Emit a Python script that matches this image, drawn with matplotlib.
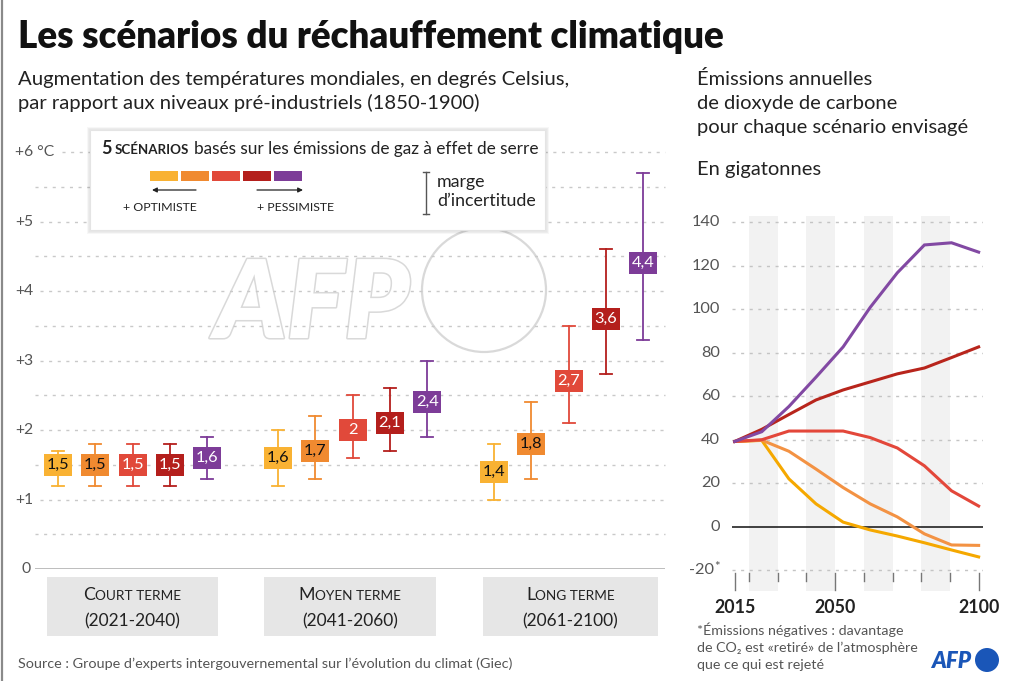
import matplotlib
matplotlib.use('Agg')
import matplotlib.pyplot as plt
from matplotlib.patches import Rectangle, Circle
import matplotlib.patheffects as pe
import numpy as np

plt.rcParams['font.family'] = ['Lato', 'DejaVu Sans']

# ---------------- data ----------------
scenario_colors = ['#f9b233', '#f08a30', '#e1493a', '#b41f1c', '#7d3c98']
line_colors = ['#f5a800', '#f39243', '#e3473a', '#b8251c', '#8249a3']
text_colors = ['#111111', '#111111', 'white', 'white', 'white']

period_names = ['COURT TERME', 'MOYEN TERME', 'LONG TERME']
period_years = ['(2021-2040)', '(2041-2060)', '(2061-2100)']

temp_mid = [[1.5, 1.5, 1.5, 1.5, 1.6],
            [1.6, 1.7, 2.0, 2.1, 2.4],
            [1.4, 1.8, 2.7, 3.6, 4.4]]
temp_low = [[1.2, 1.2, 1.2, 1.2, 1.3],
            [1.2, 1.3, 1.6, 1.7, 1.9],
            [1.0, 1.3, 2.1, 2.8, 3.3]]
temp_high = [[1.7, 1.8, 1.8, 1.8, 1.9],
             [2.0, 2.2, 2.5, 2.6, 3.0],
             [1.8, 2.4, 3.5, 4.6, 5.7]]
temp_ticks = [0, 1, 2, 3, 4, 5, 6]
temp_tick_labels = ['0', '+1', '+2', '+3', '+4', '+5', '+6 °C']

emission_years = [2015, 2020, 2030, 2040, 2050, 2060, 2070, 2080, 2090, 2100]
em_ssp119 = [39.2, 39.7, 22.0, 10.5, 2.1, -1.5, -4.3, -7.4, -10.7, -13.9]
em_ssp126 = [39.2, 39.8, 34.7, 26.5, 18.0, 10.5, 4.5, -3.3, -8.4, -8.6]
em_ssp245 = [39.2, 40.0, 44.0, 44.0, 44.0, 41.0, 36.2, 28.0, 16.5, 9.5]
em_ssp370 = [39.2, 44.8, 51.6, 58.3, 62.9, 66.6, 70.3, 73.0, 77.8, 82.7]
em_ssp585 = [39.2, 43.7, 55.3, 68.8, 82.7, 100.9, 116.8, 129.6, 130.6, 126.3]
emission_series = [em_ssp119, em_ssp126, em_ssp245, em_ssp370, em_ssp585]
em_ticks = [-20, 0, 20, 40, 60, 80, 100, 120, 140]
em_year_labels = [2015, 2050, 2100]
em_minor_years = [2020, 2030, 2040, 2060, 2070, 2080, 2090]
band_years = [(2020, 2030), (2040, 2050), (2060, 2070), (2080, 2090)]

# ---------------- figure ----------------
W, H = 1014, 681
fig = plt.figure(figsize=(W / 100, H / 100), dpi=100)
fig.patch.set_facecolor('white')


def fpos(x0, y0, x1, y1):
    """pixel box (top-left origin) -> figure fraction [l, b, w, h]"""
    return [x0 / W, 1 - y1 / H, (x1 - x0) / W, (y1 - y0) / H]


bg = fig.add_axes([0, 0, 1, 1], zorder=0)
bg.set_xlim(0, W)
bg.set_ylim(H, 0)
bg.axis('off')

GREY = '#555555'
DARK = '#222222'

# left border
bg.plot([1.5, 1.5], [0, H], color='#8a8a8a', lw=1.6)

# title & subtitle
bg.text(18, 48, 'Les scénarios du réchauffement climatique', fontsize=26.5,
        fontweight='heavy', color='#111111', va='baseline')
bg.text(18, 85, 'Augmentation des températures mondiales, en degrés Celsius,',
        fontsize=14.6, color=DARK, va='baseline')
bg.text(18, 109, 'par rapport aux niveaux pré-industriels (1850-1900)',
        fontsize=14.6, color=DARK, va='baseline')

# right titles
for i, s in enumerate(['Émissions annuelles', 'de dioxyde de carbone',
                       'pour chaque scénario envisagé']):
    bg.text(697, 85 + i * 24, s, fontsize=14.5, color=DARK, va='baseline')
bg.text(697, 175, 'En gigatonnes', fontsize=14.5, color=DARK, va='baseline')

# watermark
bg.text(312, 338, 'AFP', fontsize=78, fontweight='heavy', style='italic',
        color='white', ha='center', va='baseline', zorder=1,
        path_effects=[pe.withStroke(linewidth=2.2, foreground='#d9d9d9')])
bg.add_patch(Circle((484, 290), 62, facecolor='white', edgecolor='#d9d9d9',
                    lw=1.6, zorder=1))

# category boxes
box_x = [(47, 218), (264, 436), (483, 658)]
renderer = fig.canvas.get_renderer()


def smallcaps(ax, cx, y, word, big, small, color):
    parts = [(word[0], big), (word[1:], small)]
    objs = []
    for s, fs in parts:
        objs.append(ax.text(0, y, s, fontsize=fs, color=color, va='baseline',
                            ha='left', zorder=5))
    widths = [o.get_window_extent(renderer).width for o in objs]
    total = sum(widths)
    x = cx - total / 2
    for o, w in zip(objs, widths):
        o.set_x(x)
        x += w


for (x0, x1), name, yrs in zip(box_x, period_names, period_years):
    bg.add_patch(Rectangle((x0, 577), x1 - x0, 59, facecolor='#e6e6e6',
                           edgecolor='none', zorder=2))
    cx = (x0 + x1) / 2
    smallcaps(bg, cx, 600, name, 12.8, 9.8, DARK)
    bg.text(cx, 626, yrs, fontsize=12.5, color=DARK, ha='center',
            va='baseline', zorder=5)

bg.text(18, 668, 'Source : Groupe d\u2019experts intergouvernemental sur l\u2019évolution du climat (Giec)',
        fontsize=10.4, color=GREY, va='baseline')

# footnote
foot = ['*Émissions négatives : davantage',
        'de CO\u2082 est «retiré» de l\u2019atmosphère',
        'que ce qui est rejeté']
for i, s in enumerate(foot):
    bg.text(697, 635 + i * 17, s, fontsize=10.3, color=GREY, va='baseline',
            family=['Lato', 'DejaVu Sans'])

# AFP logo
bg.text(951, 668, 'AFP', fontsize=16, fontweight='heavy', style='italic',
        color='#1a56b8', ha='center', va='baseline')
bg.add_patch(Circle((987, 660), 12, facecolor='#1a56b8', edgecolor='none'))

# ---------------- left chart ----------------
axL = fig.add_axes(fpos(35, 152, 665, 569), zorder=1)
axL.set_facecolor('none')
axL.set_xlim(35, 665)
axL.set_ylim(0, 6)
axL.axis('off')

for v in np.arange(0.5, 6.01, 0.5):
    if v == int(v):
        xs = 62 if v == 6 else 40
    else:
        xs = 35
    axL.plot([xs, 665], [v, v], color='#c9c9c9', lw=1.0,
             dashes=(2.2, 4.0), zorder=1, clip_on=False)
axL.plot([35, 665], [0, 0], color='#bdbdbd', lw=1.4, zorder=1)

for t, lab in zip(temp_ticks, temp_tick_labels):
    axL.text(15 if t > 0 else 21, t, lab, fontsize=11.3, color=GREY,
             ha='left', va='center', clip_on=False)

group_start = [58, 278, 494]
step = 37.3
bw, bh = 28, 0.315
for g in range(3):
    for i in range(5):
        x = group_start[g] + i * step
        c = scenario_colors[i]
        axL.plot([x, x], [temp_low[g][i], temp_high[g][i]], color=c,
                 lw=1.3, zorder=3)
        for yy in (temp_low[g][i], temp_high[g][i]):
            axL.plot([x - 6, x + 6], [yy, yy], color=c, lw=1.3, zorder=3)
        axL.add_patch(Rectangle((x - bw / 2, temp_mid[g][i] - bh / 2), bw, bh,
                                facecolor=c, edgecolor='none', zorder=4))
        lab = ('%g' % temp_mid[g][i]).replace('.', ',')
        axL.text(x, temp_mid[g][i], lab, fontsize=11.8, color=text_colors[i],
                 ha='center', va='center', zorder=5)

# ---------------- legend (overlay) ----------------
ov = fig.add_axes([0, 0, 1, 1], zorder=3)
ov.set_facecolor('none')
ov.set_xlim(0, W)
ov.set_ylim(H, 0)
ov.axis('off')

for k, a in enumerate([0.05, 0.04, 0.03]):
    ov.add_patch(Rectangle((90 - k, 130 - k), 455 + 2 * k + 1, 100 + 2 * k + 1,
                           facecolor='none', edgecolor='black', alpha=a, lw=1.5))
ov.add_patch(Rectangle((90, 130), 455, 100, facecolor='white',
                       edgecolor='#e4e4e4', lw=0.8))
t1 = ov.text(101, 154, '5', fontsize=13, fontweight='bold', color=DARK,
             va='baseline')
w1 = t1.get_window_extent(renderer).width
t2 = ov.text(101 + w1 + 3, 154, 'SCÉNARIOS', fontsize=9.6, fontweight='bold',
             color=DARK, va='baseline')
w2 = t2.get_window_extent(renderer).width
ov.text(101 + w1 + 3 + w2 + 5, 154, 'basés sur les émissions de gaz à effet de serre',
        fontsize=12.4, color=DARK, va='baseline')

for i, c in enumerate(scenario_colors):
    ov.add_patch(Rectangle((150 + i * 31, 171), 28, 10, facecolor=c,
                           edgecolor='none'))
ov.annotate('', xy=(152, 190), xytext=(196, 190),
            arrowprops=dict(arrowstyle='-|>', color='#222', lw=0.9,
                            mutation_scale=7, shrinkA=0, shrinkB=0))
ov.annotate('', xy=(303, 190), xytext=(257, 190),
            arrowprops=dict(arrowstyle='-|>', color='#222', lw=0.9,
                            mutation_scale=7, shrinkA=0, shrinkB=0))
ov.text(123, 211, '+ OPTIMISTE', fontsize=8.9, color=DARK, va='baseline')
ov.text(257, 211, '+ PESSIMISTE', fontsize=8.9, color=DARK, va='baseline')

ov.plot([426, 426], [172, 214], color='#555', lw=1.0)
ov.plot([423, 429], [172, 172], color='#555', lw=1.0)
ov.plot([423, 429], [214, 214], color='#555', lw=1.0)
ov.text(437, 187, 'marge', fontsize=12.8, color=DARK, va='baseline')
ov.text(437, 206, 'd\u2019incertitude', fontsize=12.8, color=DARK, va='baseline')

# ---------------- right chart ----------------
px_per_unit = 2.174
y0px = 526.7
ylo, yhi = -29.5, 143.0
axR = fig.add_axes(fpos(732, y0px - yhi * px_per_unit, 982.7,
                        y0px - ylo * px_per_unit), zorder=1)
axR.set_facecolor('none')
xlo, xhi = -0.1, 9.15
axR.set_xlim(xlo, xhi)
axR.set_ylim(ylo, yhi)
axR.axis('off')

n = len(emission_years)
span = emission_years[-1] - emission_years[0]


def ypos(year):
    return (year - emission_years[0]) / span * (n - 1)


for a, b in band_years:
    axR.axvspan(ypos(a), ypos(b), color='#f2f2f2', zorder=0, lw=0)

for v in em_ticks:
    if v == 0:
        axR.plot([xlo, xhi], [0, 0], color='#222222', lw=1.2, zorder=2)
    else:
        axR.plot([xlo, xhi], [v, v], color='#c4c4c4', lw=1.0,
                 dashes=(2.2, 4.0), zorder=1)
    if v == -20:
        axR.text(-0.75, v, '-20', fontsize=11.8, color=GREY, ha='right',
                 va='center', clip_on=False)
        axR.text(-0.74, v + 1.5, '*', fontsize=9.5, color=GREY, ha='left',
                 va='center', clip_on=False)
    else:
        axR.text(-0.55, v, str(v), fontsize=11.8, color=GREY, ha='right',
                 va='center', clip_on=False)

xs = np.arange(n)
for series, c in zip(emission_series, line_colors):
    axR.plot(xs, series, color=c, lw=2.2, zorder=3, solid_joinstyle='miter')

for yr in em_minor_years:
    axR.plot([ypos(yr)] * 2, [-21.5, -24.8], color='#777', lw=1.0,
             clip_on=False)
for yr in em_year_labels:
    axR.plot([ypos(yr)] * 2, [-21.5, -29.3], color='#777', lw=1.0,
             clip_on=False)
    axR.text(ypos(yr), -37.0, str(yr), fontsize=12.8, fontweight='bold',
             color=DARK, ha='center', va='center', clip_on=False)

fig.savefig('out.png', dpi=100, facecolor='white')
